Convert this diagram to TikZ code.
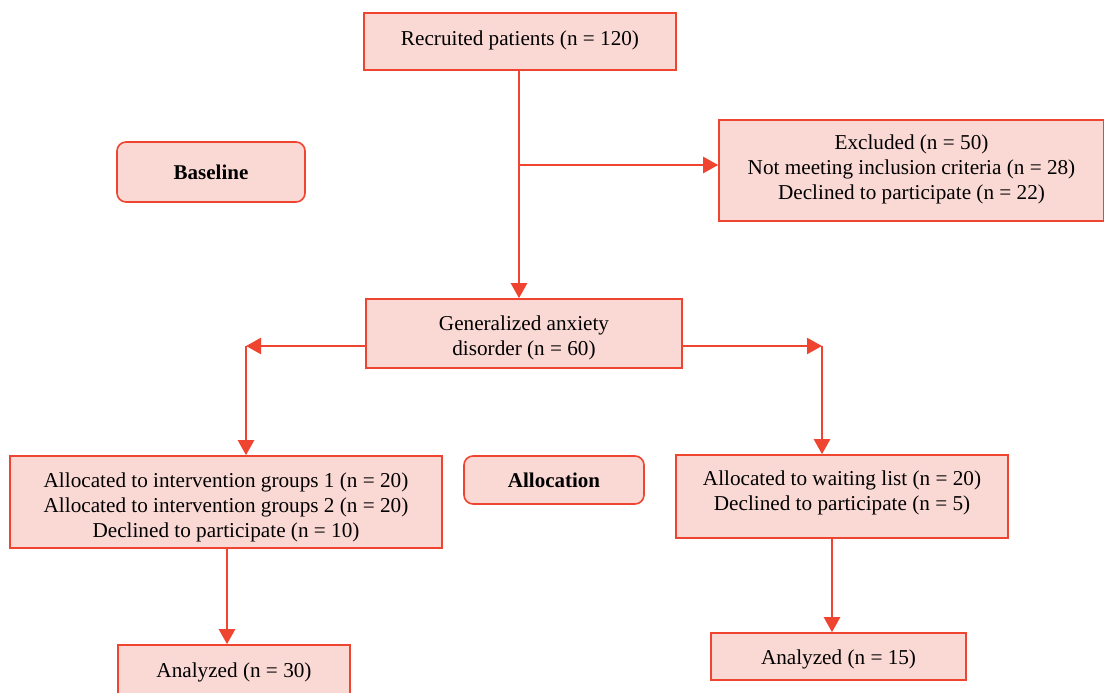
\documentclass[tikz,border=0pt]{standalone}
\usepackage{fontspec}
\setmainfont{Liberation Serif}
\usetikzlibrary{arrows.meta}
\definecolor{boxfill}{HTML}{FAD9D5}
\definecolor{boxline}{HTML}{EE4430}
\newcommand\boxtext[2]{\raisebox{#1}[\height][\depth]{\begin{tabular}{@{}c@{}}#2\end{tabular}}}
\begin{document}
\begin{tikzpicture}[x=1pt,y=-1pt,
  box/.style={draw=boxline,fill=boxfill,line width=1.6pt,align=center,inner sep=0pt,font=\fontsize{21.2}{25}\selectfont},
  rbox/.style={box,rounded corners=9pt,font=\fontsize{21}{25}\selectfont\bfseries},
  conn/.style={draw=boxline,line width=2.4pt,-{Triangle[length=15pt,width=16pt]}}]
\useasboundingbox (0,0) rectangle (1104,693);
\node[box,minimum width=312pt,minimum height=57pt] (rec) at (520,41.5) {\boxtext{1pt}{Recruited patients (n = 120)}};
\node[rbox,minimum width=188pt,minimum height=60pt] (base) at (211,172) {Baseline};
\node[box,minimum width=385pt,minimum height=101pt] (exc) at (911.5,170.5) {\boxtext{1pt}{Excluded (n = 50)\\Not meeting inclusion criteria (n = 28)\\Declined to participate (n = 22)}};
\node[box,minimum width=316pt,minimum height=69pt] (gad) at (524,333.5) {\boxtext{-4pt}{Generalized anxiety\\disorder (n = 60)}};
\node[box,minimum width=432pt,minimum height=92pt] (la) at (226,502) {\boxtext{-5pt}{Allocated to intervention groups 1 (n = 20)\\Allocated to intervention groups 2 (n = 20)\\Declined to participate (n = 10)}};
\node[rbox,minimum width=180pt,minimum height=48pt] (alloc) at (554,480) {\boxtext{-2pt}{Allocation}};
\node[box,minimum width=332pt,minimum height=83pt] (ra) at (842,496.5) {\boxtext{4pt}{Allocated to waiting list (n = 20)\\Declined to participate (n = 5)}};
\node[box,minimum width=232pt,minimum height=52pt] (an1) at (234,671) {\boxtext{-1pt}{Analyzed (n = 30)}};
\node[box,minimum width=255pt,minimum height=47pt] (an2) at (838.5,656.5) {\boxtext{-3pt}{Analyzed (n = 15)}};
\coordinate (br) at (519,165);
\coordinate (gl) at (246,346);
\coordinate (gr) at (822,346);
\draw[conn] (rec.south -| br) -- (gad.north -| br);
\draw[conn] (br) -- (br -| exc.west);
\draw[conn] (gad.west |- gl) -- (gl);
\draw[conn] (gl) -- (gl |- la.north);
\draw[conn] (gad.east |- gr) -- (gr);
\draw[conn] (gr) -- (gr |- ra.north);
\draw[conn] (la.south -| 227,0) -- (an1.north -| 227,0);
\draw[conn] (ra.south -| 832,0) -- (an2.north -| 832,0);
\end{tikzpicture}
\end{document}
